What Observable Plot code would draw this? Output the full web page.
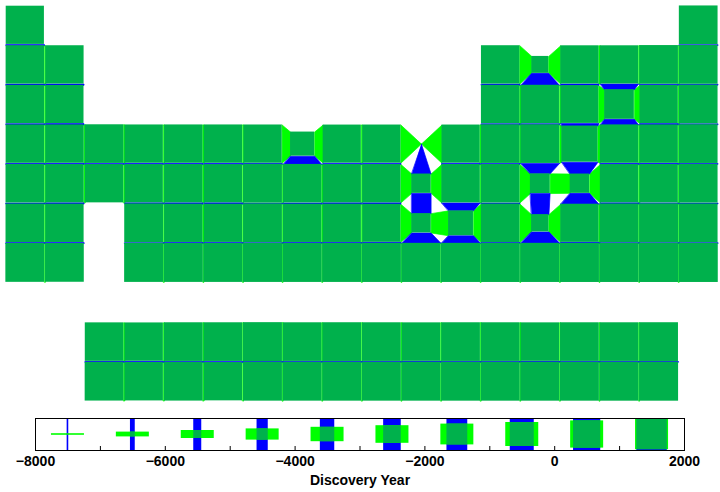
<!DOCTYPE html>
<html><head><meta charset="utf-8">
<script src="https://cdn.jsdelivr.net/npm/d3@7"></script>
<script src="https://cdn.jsdelivr.net/npm/@observablehq/plot@0.6"></script>
<style>
html,body{margin:0;padding:0;background:#fff;}
#chart{width:720px;height:492px;overflow:hidden;}
#chart svg{display:block;}
</style></head><body><div id="chart"></div>
<script>
// ---- data ----
const symbols = ["H","He","Li","Be","B","C","N","O","F","Ne","Na","Mg","Al","Si","P","S","Cl","Ar",
"K","Ca","Sc","Ti","V","Cr","Mn","Fe","Co","Ni","Cu","Zn","Ga","Ge","As","Se","Br","Kr",
"Rb","Sr","Y","Zr","Nb","Mo","Tc","Ru","Rh","Pd","Ag","Cd","In","Sn","Sb","Te","I","Xe",
"Cs","Ba","La","Ce","Pr","Nd","Pm","Sm","Eu","Gd","Tb","Dy","Ho","Er","Tm","Yb","Lu",
"Hf","Ta","W","Re","Os","Ir","Pt","Au","Hg","Tl","Pb","Bi","Po","At","Rn",
"Fr","Ra","Ac","Th","Pa","U","Np","Pu","Am","Cm","Bk","Cf","Es","Fm","Md","No","Lr",
"Rf","Db","Sg","Bh","Hs","Mt","Ds","Rg","Cn","Nh","Fl","Mc","Lv","Ts","Og"];
const discoveryYears = [1766,1895,1817,1798,1808,-3600,1772,1774,1886,1898,1807,1755,1825,1824,1669,-400,1774,1894,
1807,1808,1879,1791,1801,1797,1774,-1800,1735,1751,-8000,1746,1875,1886,1250,1817,1826,1898,
1861,1790,1794,1789,1801,1778,1937,1844,1803,1803,-3000,1817,1863,-2900,-3000,1782,1811,1898,
1860,1808,1839,1803,1885,1885,1945,1879,1901,1880,1843,1886,1878,1842,1879,1878,1907,
1923,1802,1783,1925,1803,1803,1735,-3000,-1600,1861,-3500,1753,1898,1940,1899,
1939,1898,1899,1829,1913,1789,1940,1940,1944,1944,1949,1950,1952,1952,1955,1958,1961,
1969,1970,1974,1981,1984,1982,1994,1994,1996,2003,1998,2003,2000,2010,2002];
const legendYears = [-7500,-6500,-5500,-4500,-3500,-2500,-1500,-500,500,1500];
const axisTicks = [-8000,-6000,-4000,-2000,0,2000];
const minorTicks = [-7000,-6000,-5000,-4000,-3000,-2000,-1000,0,1000];
const yearMin = -8000, yearMax = 2000;

// ---- colours ----
const BLUE = "#0000ff", GREEN = "#00ff00", DARK = "#00b14c";

// periodic-table position (column, row) from atomic number
function position(z) {
  if (z === 1) return [1, 1];
  if (z === 2) return [18, 1];
  if (z <= 4) return [z - 2, 2];
  if (z <= 10) return [z + 8, 2];
  if (z <= 12) return [z - 10, 3];
  if (z <= 18) return [z, 3];
  if (z <= 36) return [z - 18, 4];
  if (z <= 54) return [z - 36, 5];
  if (z <= 56) return [z - 54, 6];
  if (z <= 71) return [z - 54, 9];
  if (z <= 86) return [z - 68, 6];
  if (z <= 88) return [z - 86, 7];
  if (z <= 103) return [z - 86, 10];
  return [z - 100, 7];
}
const frac = y => Math.max(0, (y - yearMin) / (yearMax - yearMin));

const cells = symbols.map((sym, i) => {
  const [col, row] = position(i + 1);
  const f = frac(discoveryYears[i]);
  return {sym, col, row, cx: col - 0.5, cy: row - 0.5, h: Math.max(0, f - 0.012) / 2};
});
const byPos = new Map(cells.map(c => [c.col + "," + c.row, c]));
const greenQuads = [], blueQuads = [];
for (const a of cells) {
  const r = byPos.get((a.col + 1) + "," + a.row);
  if (r) {
    const id = a.sym + "-" + r.sym;
    greenQuads.push({id, x: a.cx + a.h, y: a.cy - a.h}, {id, x: r.cx - r.h, y: r.cy - r.h},
                    {id, x: r.cx - r.h, y: r.cy + r.h}, {id, x: a.cx + a.h, y: a.cy + a.h});
  }
  const b = byPos.get(a.col + "," + (a.row + 1));
  if (b) {
    const id = a.sym + "|" + b.sym;
    blueQuads.push({id, x: a.cx - a.h, y: a.cy + a.h}, {id, x: a.cx + a.h, y: a.cy + a.h},
                   {id, x: b.cx + b.h, y: b.cy - b.h}, {id, x: b.cx - b.h, y: b.cy - b.h});
  }
}

const table = Plot.plot({
  width: 720, height: 408,
  x: {domain: [0, 18], range: [5, 718], axis: null},
  y: {domain: [0, 10], range: [5, 401], axis: null},
  marks: [
    Plot.line(greenQuads, {x: "x", y: "y", z: "id", curve: "linear-closed", fill: GREEN, stroke: GREEN, strokeWidth: 0.7, strokeLinejoin: "miter"}),
    Plot.line(blueQuads, {x: "x", y: "y", z: "id", curve: "linear-closed", fill: BLUE, stroke: BLUE, strokeWidth: 0.7, strokeLinejoin: "miter"}),
    Plot.rect(cells, {x1: d => d.cx - d.h, x2: d => d.cx + d.h, y1: d => d.cy - d.h, y2: d => d.cy + d.h, fill: DARK, inset: 0})
  ]
});

// ---- legend ----
const lw = 720, lh = 84, mL = 35, mR = 36, mT = 10, mB = 42;
const pxPerYear = (lw - mL - mR) / (yearMax - yearMin);
const boxPx = lh - mT - mB;
const halfW = d => frac(d) * boxPx / 2 / pxPerYear;
const greenHalf = 16.5 / pxPerYear;
const fmt = d => d < 0 ? "\u2212" + Math.abs(d) : String(d);

const legend = Plot.plot({
  width: lw, height: lh,
  marginLeft: mL, marginRight: mR, marginTop: mT, marginBottom: mB,
  style: {fontFamily: "'Liberation Sans', Arial, sans-serif", fontSize: "14px", fontWeight: "bold", color: "black", background: "white"},
  x: {domain: [yearMin, yearMax], ticks: axisTicks, tickFormat: fmt, tickSize: 0, tickPadding: 6, label: null},
  y: {domain: [-0.5, 0.5], axis: null},
  marks: [
    Plot.rect(legendYears, {x1: d => d - halfW(d), x2: d => d + halfW(d), y1: -0.5, y2: 0.5, fill: BLUE}),
    Plot.rect(legendYears, {x1: d => d - greenHalf, x2: d => d + greenHalf, y1: d => -frac(d) / 2, y2: d => frac(d) / 2, fill: GREEN}),
    Plot.rect(legendYears, {x1: d => d - halfW(d), x2: d => d + halfW(d), y1: d => -frac(d) / 2, y2: d => frac(d) / 2, fill: DARK}),
    Plot.ruleX(minorTicks, {x: d => d, y1: -0.5, y2: -0.5 + 4 / boxPx, stroke: "black", strokeWidth: 1}),
    Plot.frame({stroke: "black", strokeWidth: 1}),
    Plot.text(["Discovery Year"], {text: d => d, frameAnchor: "bottom", dy: 34, fontSize: 14, fontWeight: "bold", fill: "black"})
  ]
});

const root = document.getElementById("chart");
root.appendChild(table);
root.appendChild(legend);
</script>
</body></html>
